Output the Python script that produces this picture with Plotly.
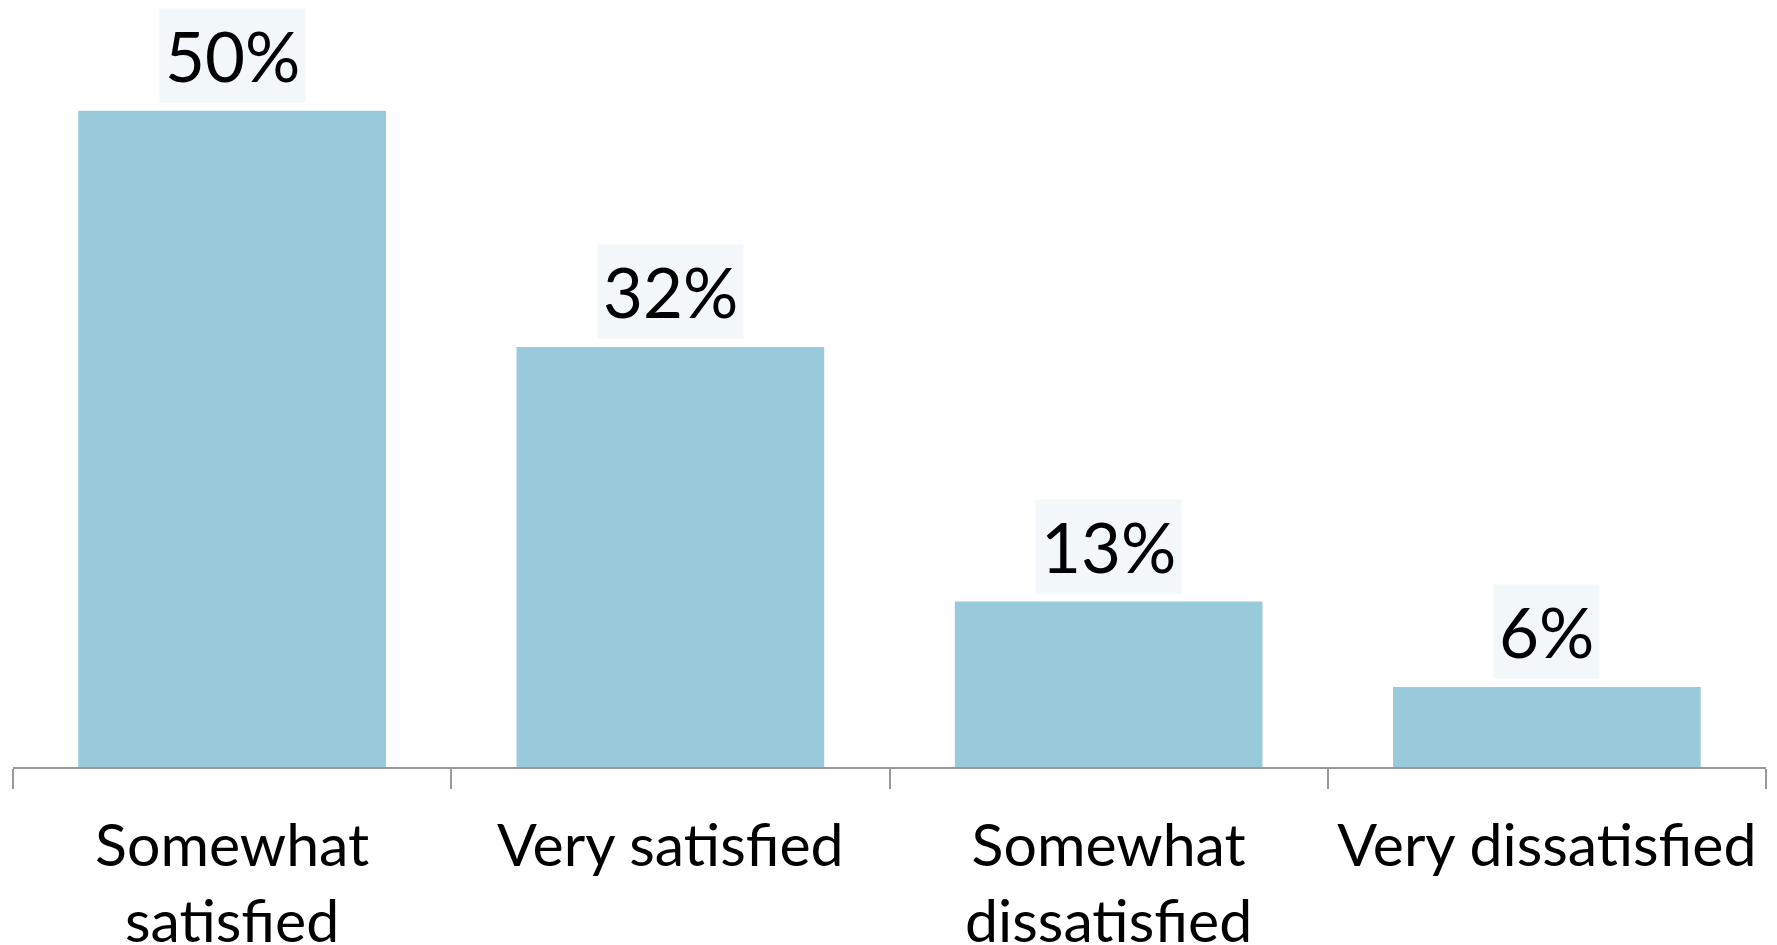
import plotly.graph_objects as go

categories = ["Somewhat<br>satisfied", "Very satisfied", "Somewhat<br>dissatisfied", "Very dissatisfied"]
values = [50, 32, 12.6, 6.1]
labels = ["50%", "32%", "13%", "6%"]

BAR = "#98CADB"
FONT = "Lato"

fig = go.Figure(go.Bar(x=categories, y=values, marker=dict(color=BAR, line=dict(width=0)),
                       hoverinfo="skip"))

for c, v, t in zip(categories, values, labels):
    fig.add_annotation(x=c, y=v, text=t, showarrow=False, yanchor="bottom", yshift=8,
                       bgcolor="#F2F7FA", borderpad=5,
                       font=dict(family=FONT, size=69, color="black"))

fig.update_layout(
    width=1777, height=945,
    margin=dict(l=13, r=11, t=0, b=178, autoexpand=False),
    paper_bgcolor="white", plot_bgcolor="white",
    bargap=0.298, showlegend=False,
    font=dict(family=FONT, color="black"),
)
fig.update_xaxes(showline=True, linecolor="#999999", linewidth=1.5, automargin=False,
                 ticks="outside", tickson="boundaries", ticklen=20, tickcolor="#999999",
                 tickwidth=1.5, tickfont=dict(family=FONT, size=59, color="black"),
                 ticklabelstandoff=26, showgrid=False, zeroline=False, fixedrange=True)
fig.update_yaxes(visible=False, automargin=False, range=[0, 58.43], showgrid=False,
                 zeroline=False, fixedrange=True)

fig.write_html("out.html")
